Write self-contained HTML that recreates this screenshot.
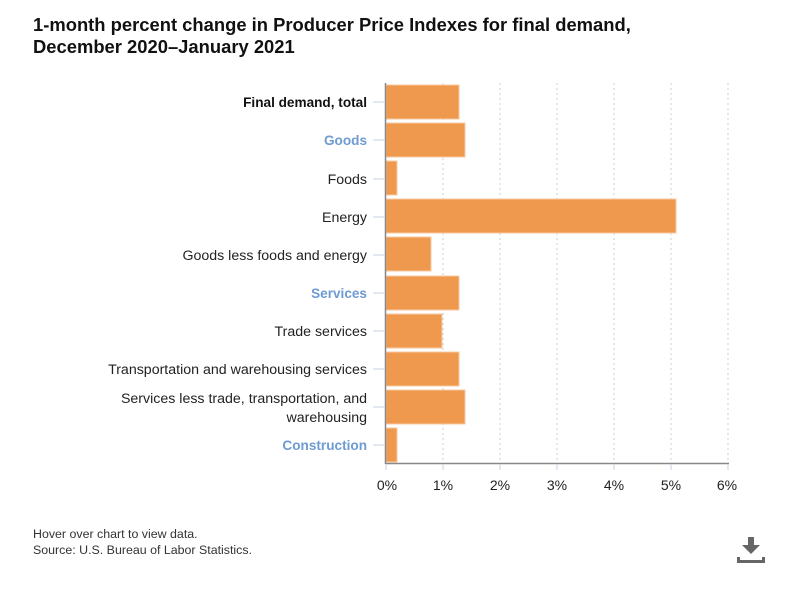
<!DOCTYPE html>
<html><head><meta charset="utf-8"><style>
body{margin:0;background:#fff;width:795px;height:587px;overflow:hidden;font-family:"Liberation Sans",sans-serif}
</style></head><body>
<svg width="795" height="587" xmlns="http://www.w3.org/2000/svg" font-family="Liberation Sans, sans-serif">
<text x="33" y="31" font-size="18.4" font-weight="bold" fill="#111">1-month percent change in Producer Price Indexes for final demand,</text>
<text x="33" y="53" font-size="18.4" font-weight="bold" fill="#111">December 2020–January 2021</text>
<g stroke="#ccc" stroke-dasharray="2,3" stroke-width="1">
<line x1="443" y1="83" x2="443" y2="463"/><line x1="500" y1="83" x2="500" y2="463"/>
<line x1="557" y1="83" x2="557" y2="463"/><line x1="614" y1="83" x2="614" y2="463"/>
<line x1="671" y1="83" x2="671" y2="463"/><line x1="728" y1="83" x2="728" y2="463"/>
</g>
<g fill="#ef994f" stroke="#f7c9a0" stroke-width="1">
<rect x="386" y="85" width="73" height="34"/>
<rect x="386" y="123" width="79" height="34"/>
<rect x="386" y="161" width="11" height="34"/>
<rect x="386" y="199" width="290" height="34"/>
<rect x="386" y="237" width="45" height="34"/>
<rect x="386" y="276" width="73" height="34"/>
<rect x="386" y="314" width="56" height="34"/>
<rect x="386" y="352" width="73" height="34"/>
<rect x="386" y="390" width="79" height="34"/>
<rect x="386" y="428" width="11" height="34"/>
</g>
<line x1="385.5" y1="83" x2="385.5" y2="464" stroke="#888" stroke-width="1.5"/>
<line x1="385" y1="463.5" x2="729" y2="463.5" stroke="#888" stroke-width="1.5"/>
<g stroke="#c5d3e3" stroke-width="1">
<line x1="373" y1="102" x2="385" y2="102"/><line x1="373" y1="140" x2="385" y2="140"/>
<line x1="373" y1="179" x2="385" y2="179"/><line x1="373" y1="217" x2="385" y2="217"/>
<line x1="373" y1="255" x2="385" y2="255"/><line x1="373" y1="293" x2="385" y2="293"/>
<line x1="373" y1="331" x2="385" y2="331"/><line x1="373" y1="369" x2="385" y2="369"/>
<line x1="373" y1="407" x2="385" y2="407"/><line x1="373" y1="445" x2="385" y2="445"/>
<line x1="386" y1="464" x2="386" y2="470"/><line x1="443" y1="464" x2="443" y2="470"/>
<line x1="500" y1="464" x2="500" y2="470"/><line x1="557" y1="464" x2="557" y2="470"/>
<line x1="614" y1="464" x2="614" y2="470"/><line x1="671" y1="464" x2="671" y2="470"/>
<line x1="728" y1="464" x2="728" y2="470"/>
</g>
<g font-size="14.2" text-anchor="end" fill="#222">
<text x="367" y="107" font-weight="bold" fill="#111" font-size="13.6">Final demand, total</text>
<text x="367" y="145" font-weight="bold" fill="#6e9bd1" font-size="13.6">Goods</text>
<text x="367" y="184">Foods</text>
<text x="367" y="222">Energy</text>
<text x="367" y="260">Goods less foods and energy</text>
<text x="367" y="298" font-weight="bold" fill="#6e9bd1" font-size="13.6">Services</text>
<text x="367" y="336">Trade services</text>
<text x="367" y="374">Transportation and warehousing services</text>
<text x="367" y="403">Services less trade, transportation, and</text>
<text x="367" y="422">warehousing</text>
<text x="367" y="450" font-weight="bold" fill="#6e9bd1" font-size="13.6">Construction</text>
</g>
<g font-size="14" text-anchor="middle" fill="#222">
<text x="387" y="490">0%</text><text x="443" y="490">1%</text><text x="500" y="490">2%</text>
<text x="557" y="490">3%</text><text x="614" y="490">4%</text><text x="671" y="490">5%</text>
<text x="727" y="490">6%</text>
</g>
<text x="33" y="538" font-size="12.4" fill="#333">Hover over chart to view data.</text>
<text x="33" y="554" font-size="12.4" fill="#333">Source: U.S. Bureau of Labor Statistics.</text>
<g fill="#666">
<rect x="748" y="537" width="6" height="9"/>
<polygon points="742,545 760,545 751,554"/>
<rect x="737" y="557" width="3" height="6"/>
<rect x="762" y="557" width="3" height="6"/>
<rect x="737" y="560" width="28" height="3"/>
</g>
</svg>
</body></html>
